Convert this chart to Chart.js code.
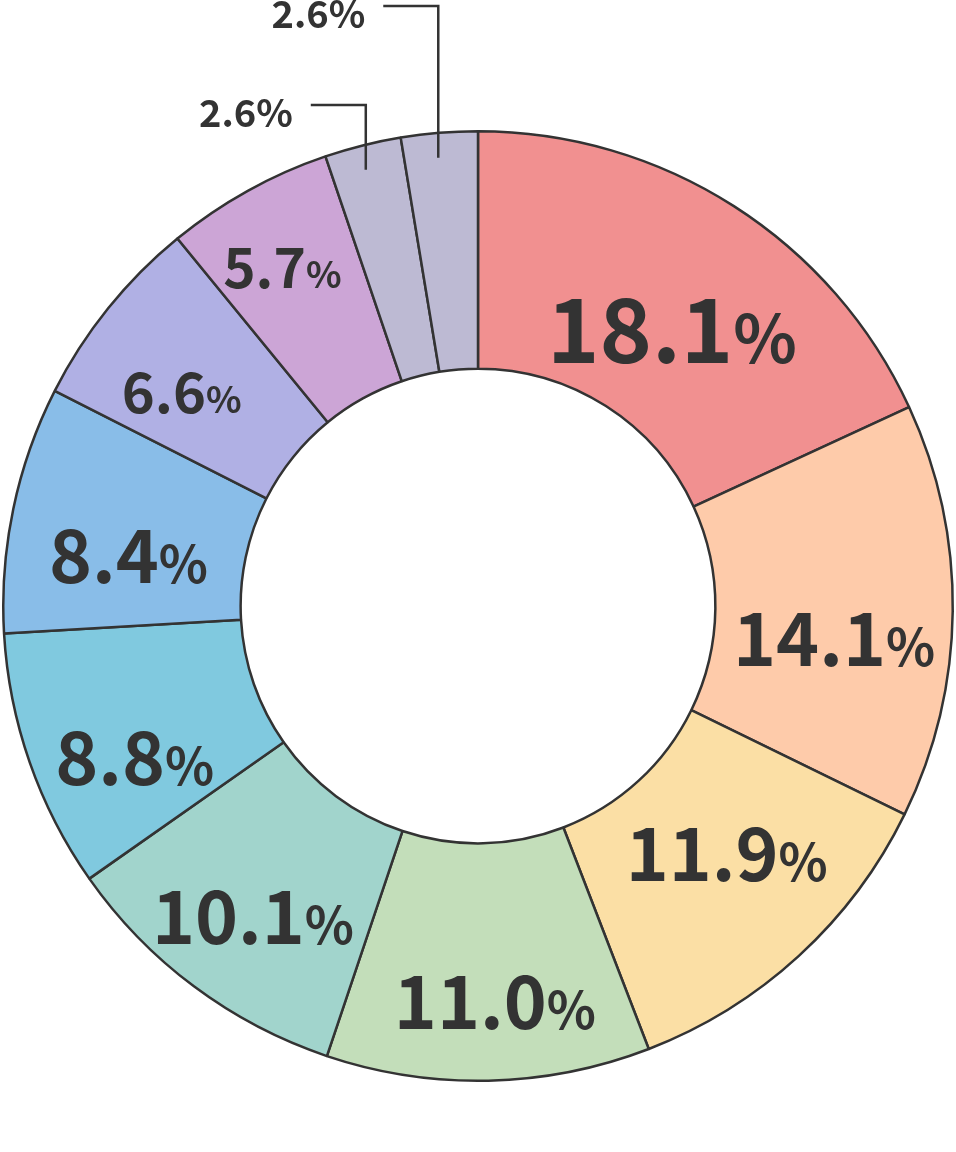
<!DOCTYPE html>
<html>
<head>
<meta charset="utf-8">
<script src="https://cdn.jsdelivr.net/npm/chart.js@4.4.1/dist/chart.umd.min.js"></script>
<style>
  html, body { margin: 0; padding: 0; background: #ffffff; }
  #wrap { width: 956px; height: 1152px; position: relative; }
  canvas { display: block; }
</style>
</head>
<body>
<div id="wrap"><canvas id="c" width="956" height="1152"></canvas></div>
<script>
// ---- data ----
const categories = ['A', 'B', 'C', 'D', 'E', 'F', 'G', 'H', 'I', 'J', 'K'];
const shares = [18.1, 14.1, 11.9, 11.0, 10.1, 8.8, 8.4, 6.6, 5.7, 2.6, 2.6];
const valueLabels = ['18.1', '14.1', '11.9', '11.0', '10.1', '8.8', '8.4', '6.6', '5.7', '2.6', '2.6'];

// ---- styles ----
const sliceColors = ['#f19090', '#fecbaa', '#fbdfa5', '#c3deba', '#a1d4cc', '#80c9df',
                     '#89bde8', '#b0b0e4', '#cca5d6', '#bdbad3', '#bdbad3'];
const numFontSize = [89, 73, 73, 73, 73, 73, 73, 56, 55, 38, 38];
const pctFontSize = [66, 51, 51, 51, 51, 51, 51, 37, 37, 38, 38];
const nudgeX = [2, 0, 8, 9, -12, -7, -1, -19, -23, 0, 0];
const nudgeY = [24, 29, -14, 40, 26, 35, 23, 10, -27, 0, 0];
const calloutRise = [0, 0, 0, 0, 0, 0, 0, 0, 0, 25, 124]; // >0 => outside label with leader
const FONT = '"Noto Sans CJK JP", "Noto Sans", sans-serif';
const INK = '#333333';

const labelPlugin = {
  id: 'sliceLabels',
  afterDatasetsDraw(chart) {
    const ctx = chart.ctx;
    const meta = chart.getDatasetMeta(0);
    meta.data.forEach((arc, i) => {
      const p = arc.getProps(['x', 'y', 'startAngle', 'endAngle', 'innerRadius', 'outerRadius'], true);
      const mid = (p.startAngle + p.endAngle) / 2;
      ctx.save();
      ctx.fillStyle = INK;
      ctx.textBaseline = 'alphabetic';
      ctx.font = 'bold ' + numFontSize[i] + 'px ' + FONT;
      const num = valueLabels[i];
      const wNum = ctx.measureText(num).width;
      const capH = ctx.measureText('0').actualBoundingBoxAscent;
      ctx.font = 'bold ' + pctFontSize[i] + 'px ' + FONT;
      const wPct = ctx.measureText('%').width;
      const total = wNum + wPct;
      let cx, cy;
      if (calloutRise[i] > 0) {
        const r = p.outerRadius - 25;
        const ax = p.x + Math.cos(mid) * r - 3;
        const ay = p.y + Math.sin(mid) * r;
        const ringTop = p.y - p.outerRadius - 1.25;
        const ey = ringTop - calloutRise[i];
        const ex = ax - 55;
        ctx.strokeStyle = INK;
        ctx.lineWidth = 2.5;
        ctx.beginPath();
        ctx.moveTo(ax, ay);
        ctx.lineTo(ax, ey);
        ctx.lineTo(ex, ey);
        ctx.stroke();
        const right = ex - 18;
        cx = right - total / 2;
        cy = ey + 8;
      } else {
        const r = (p.innerRadius + p.outerRadius) / 2;
        cx = p.x + Math.cos(mid) * r + nudgeX[i];
        cy = p.y + Math.sin(mid) * r + nudgeY[i];
      }
      const x0 = cx - total / 2;
      const base = cy + capH / 2;
      ctx.textAlign = 'left';
      ctx.font = 'bold ' + numFontSize[i] + 'px ' + FONT;
      ctx.fillText(num, x0, base);
      ctx.font = 'bold ' + pctFontSize[i] + 'px ' + FONT;
      ctx.fillText('%', x0 + wNum, base);
      ctx.restore();
    });
  }
};

new Chart(document.getElementById('c'), {
  type: 'doughnut',
  data: {
    labels: categories,
    datasets: [{
      data: shares,
      backgroundColor: sliceColors,
      borderColor: INK,
      borderWidth: 2.5,
      hoverOffset: 0
    }]
  },
  options: {
    responsive: false,
    animation: false,
    events: [],
    cutout: '50%',
    rotation: 0,
    layout: { padding: { left: 2, right: 2, top: 130, bottom: 70 } },
    plugins: { legend: { display: false }, tooltip: { enabled: false } }
  },
  plugins: [labelPlugin]
});
</script>
</body>
</html>
